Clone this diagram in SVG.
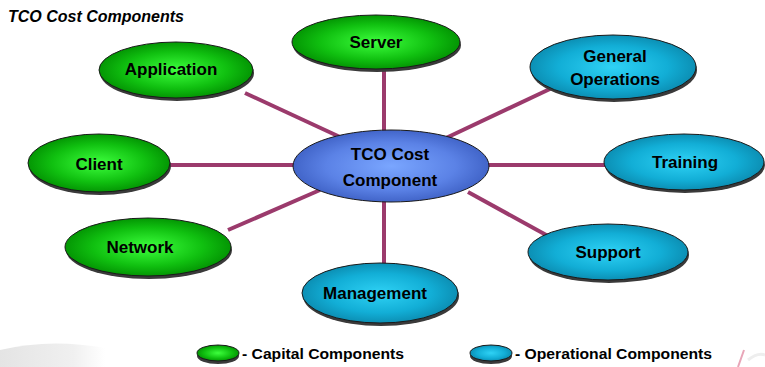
<svg xmlns="http://www.w3.org/2000/svg" width="765" height="367" viewBox="0 0 765 367">
<defs>
<radialGradient id="gGreen" cx="50%" cy="50%" r="55%">
<stop offset="0" stop-color="#3dff3d"/><stop offset="0.6" stop-color="#10c010"/><stop offset="1" stop-color="#008a00"/>
</radialGradient>
<radialGradient id="gCyan" cx="50%" cy="50%" r="55%">
<stop offset="0" stop-color="#2fd2f5"/><stop offset="0.6" stop-color="#12aed6"/><stop offset="1" stop-color="#0a86aa"/>
</radialGradient>
<radialGradient id="gBlue" cx="50%" cy="50%" r="55%">
<stop offset="0" stop-color="#7aa6ff"/><stop offset="0.6" stop-color="#5b82e6"/><stop offset="1" stop-color="#3a5cc0"/>
</radialGradient>
<linearGradient id="swoosh" x1="0" y1="0" x2="1" y2="0">
<stop offset="0" stop-color="#e4e4e4"/><stop offset="0.7" stop-color="#f0f0f0"/><stop offset="1" stop-color="#ffffff"/>
</linearGradient>
</defs>
<style>
.lbl{font-family:"Liberation Sans",Arial,sans-serif;font-weight:bold;font-size:17px;fill:#000;text-anchor:middle}
.shadow{fill:#3a3a3a}
.n{stroke:#1a1a1a;stroke-width:1}
.green{fill:url(#gGreen)}
.cyan{fill:url(#gCyan)}
.blue{fill:url(#gBlue)}
.conn line{stroke:#9b3a6c;stroke-width:4}
.leg{font-family:"Liberation Sans",Arial,sans-serif;font-weight:bold;font-size:14px;fill:#000}
</style>
<rect width="765" height="367" fill="#fff"/>
<path d="M0 350 Q50 338 105 348 L105 367 L0 367 Z" fill="url(#swoosh)"/>
<path d="M738 367 L744 350" stroke="#e8a6b8" stroke-width="2" fill="none"/>
<path d="M748 360 Q758 352 765 355" stroke="#eeeeee" stroke-width="3" fill="none"/>
<text x="8" y="22" font-family="Liberation Sans,Arial,sans-serif" font-weight="bold" font-style="italic" font-size="16" fill="#000">TCO Cost Components</text>
<g id="connectors" class="conn">
<line x1="384" y1="66" x2="384" y2="132"/>
<line x1="245" y1="93" x2="340" y2="137"/>
<line x1="552" y1="88" x2="446" y2="138"/>
<line x1="168" y1="165" x2="295" y2="165"/>
<line x1="488" y1="165" x2="605" y2="165"/>
<line x1="228" y1="230" x2="320" y2="190"/>
<line x1="548" y1="236" x2="468" y2="192"/>
<line x1="384" y1="200" x2="384" y2="264"/>
</g>
<g id="server"><ellipse class="shadow" cx="377" cy="45" rx="84" ry="27"/><ellipse class="n green" cx="376" cy="42" rx="84" ry="27"/><text class="lbl" x="376" y="48">Server</text></g>
<g id="application"><ellipse class="shadow" cx="177" cy="73" rx="77" ry="28"/><ellipse class="n green" cx="176" cy="70" rx="77" ry="28"/><text class="lbl" x="171" y="75">Application</text></g>
<g id="general-operations"><ellipse class="shadow" cx="614" cy="70" rx="83" ry="32"/><ellipse class="n cyan" cx="613" cy="67" rx="83" ry="32"/><text class="lbl" x="615" y="62">General</text><text class="lbl" x="615" y="85">Operations</text></g>
<g id="client"><ellipse class="shadow" cx="100" cy="166" rx="71" ry="29"/><ellipse class="n green" cx="99" cy="163" rx="71" ry="29"/><text class="lbl" x="99" y="170">Client</text></g>
<g id="training"><ellipse class="shadow" cx="685" cy="165" rx="80" ry="28"/><ellipse class="n cyan" cx="684" cy="162" rx="80" ry="28"/><text class="lbl" x="685" y="168">Training</text></g>
<g id="network"><ellipse class="shadow" cx="149" cy="250" rx="83" ry="29"/><ellipse class="n green" cx="148" cy="247" rx="83" ry="29"/><text class="lbl" x="140" y="253">Network</text></g>
<g id="support"><ellipse class="shadow" cx="609" cy="255" rx="80" ry="28"/><ellipse class="n cyan" cx="608" cy="252" rx="80" ry="28"/><text class="lbl" x="608" y="258">Support</text></g>
<g id="management"><ellipse class="shadow" cx="381" cy="296" rx="78" ry="30"/><ellipse class="n cyan" cx="380" cy="293" rx="78" ry="30"/><text class="lbl" x="375" y="299">Management</text></g>
<g id="tco-center"><ellipse class="n blue" cx="391" cy="166" rx="98" ry="36" stroke="#222"/><text class="lbl" x="390" y="160">TCO Cost</text><text class="lbl" x="390" y="186">Component</text></g>
<g id="legend-capital"><ellipse class="shadow" cx="218" cy="356" rx="21" ry="8"/><ellipse class="n green" cx="218" cy="353" rx="21" ry="8"/><text class="leg" x="242" y="359" textLength="162" lengthAdjust="spacingAndGlyphs">- Capital Components</text></g>
<g id="legend-operational"><ellipse class="shadow" cx="491" cy="356" rx="21" ry="8"/><ellipse class="n cyan" cx="491" cy="353" rx="21" ry="8"/><text class="leg" x="515" y="359" textLength="197" lengthAdjust="spacingAndGlyphs">- Operational Components</text></g>
</svg>
